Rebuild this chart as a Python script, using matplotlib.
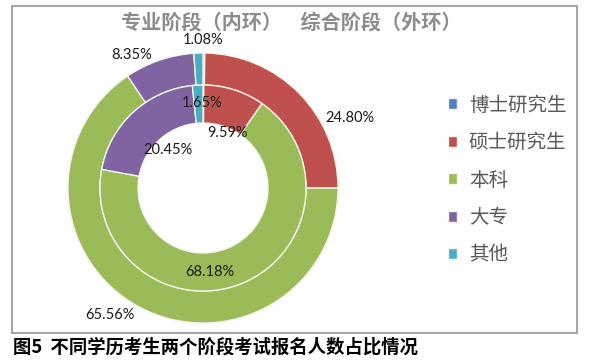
import numpy as np
import matplotlib
matplotlib.use('Agg')
from matplotlib import pyplot as plt
from matplotlib.patches import Rectangle

plt.rcParams['font.family'] = ['Noto Sans CJK SC', 'DejaVu Sans']

# data
categories = ['博士研究生', '硕士研究生', '本科', '大专', '其他']
outer_vals = [0.21, 24.80, 65.56, 8.35, 1.08]    # 综合阶段（外环）
inner_vals = [0.13, 9.59, 68.18, 20.45, 1.65]    # 专业阶段（内环）
outer_text = ['', '24.80%', '65.56%', '8.35%', '1.08%']
inner_text = ['', '9.59%', '68.18%', '20.45%', '1.65%']
colors = ['#4F81BD', '#C0504D', '#9BBB59', '#8064A2', '#4BACC6']

# label positions (data units, outer radius = 1)
outer_pos = [None, (1.09, 0.52), (-0.69, -0.94), (-0.53, 0.985), (0.0, 1.10)]
inner_pos = [None, (0.185, 0.41), (0.05, -0.62), (-0.26, 0.28), (-0.01, 0.63)]

W, H = 589, 363
fig = plt.figure(figsize=(W / 100, H / 100), dpi=100)

# chart frame
fig.patches.append(Rectangle((12 / W, 1 - 333 / H), 565 / W, 327 / H,
                             transform=fig.transFigure, fill=False,
                             edgecolor='#a6a6a6', linewidth=1.5))

cx, cy, R = 203, 188, 135
ax = fig.add_axes([(cx - R) / W, 1 - (cy + R) / H, 2 * R / W, 2 * R / H])

r_mid = 103 / R
r_in = 65 / R
wedges, _ = ax.pie(outer_vals, radius=1.0, colors=colors, startangle=90,
                   counterclock=False,
                   wedgeprops=dict(width=1.0 - r_mid, edgecolor='#f4f4ea', linewidth=1))
ax.pie(inner_vals, radius=r_mid, colors=colors, startangle=90,
       counterclock=False,
       wedgeprops=dict(width=r_mid - r_in, edgecolor='#f4f4ea', linewidth=1))
ax.set_xlim(-1, 1)
ax.set_ylim(-1, 1)
ax.set_aspect('equal')
ax.axis('off')

for t, p in zip(outer_text + inner_text, outer_pos + inner_pos):
    if t:
        ax.text(p[0], p[1], t, ha='center', va='center', fontsize=10.5,
                family=['Lato', 'DejaVu Sans'], color='#1a1a1a', clip_on=False)

fig.text(291 / W, 1 - 22 / H, '专业阶段（内环）    综合阶段（外环）',
         ha='center', va='center', fontsize=14.5, fontweight='bold', color='#8c8c8c')

fig.legend(wedges, categories, loc='upper left', bbox_to_anchor=(430 / W, 1 - 77 / H),
           frameon=False, fontsize=14, handlelength=0.5, handleheight=0.5,
           handletextpad=0.6, labelspacing=0.85, labelcolor='#595959')

fig.text(13 / W, 1 - 347 / H, '图5  不同学历考生两个阶段考试报名人数占比情况',
         ha='left', va='center', fontsize=13.2, fontweight='bold', color='black')

fig.savefig('out.png', dpi=100)
